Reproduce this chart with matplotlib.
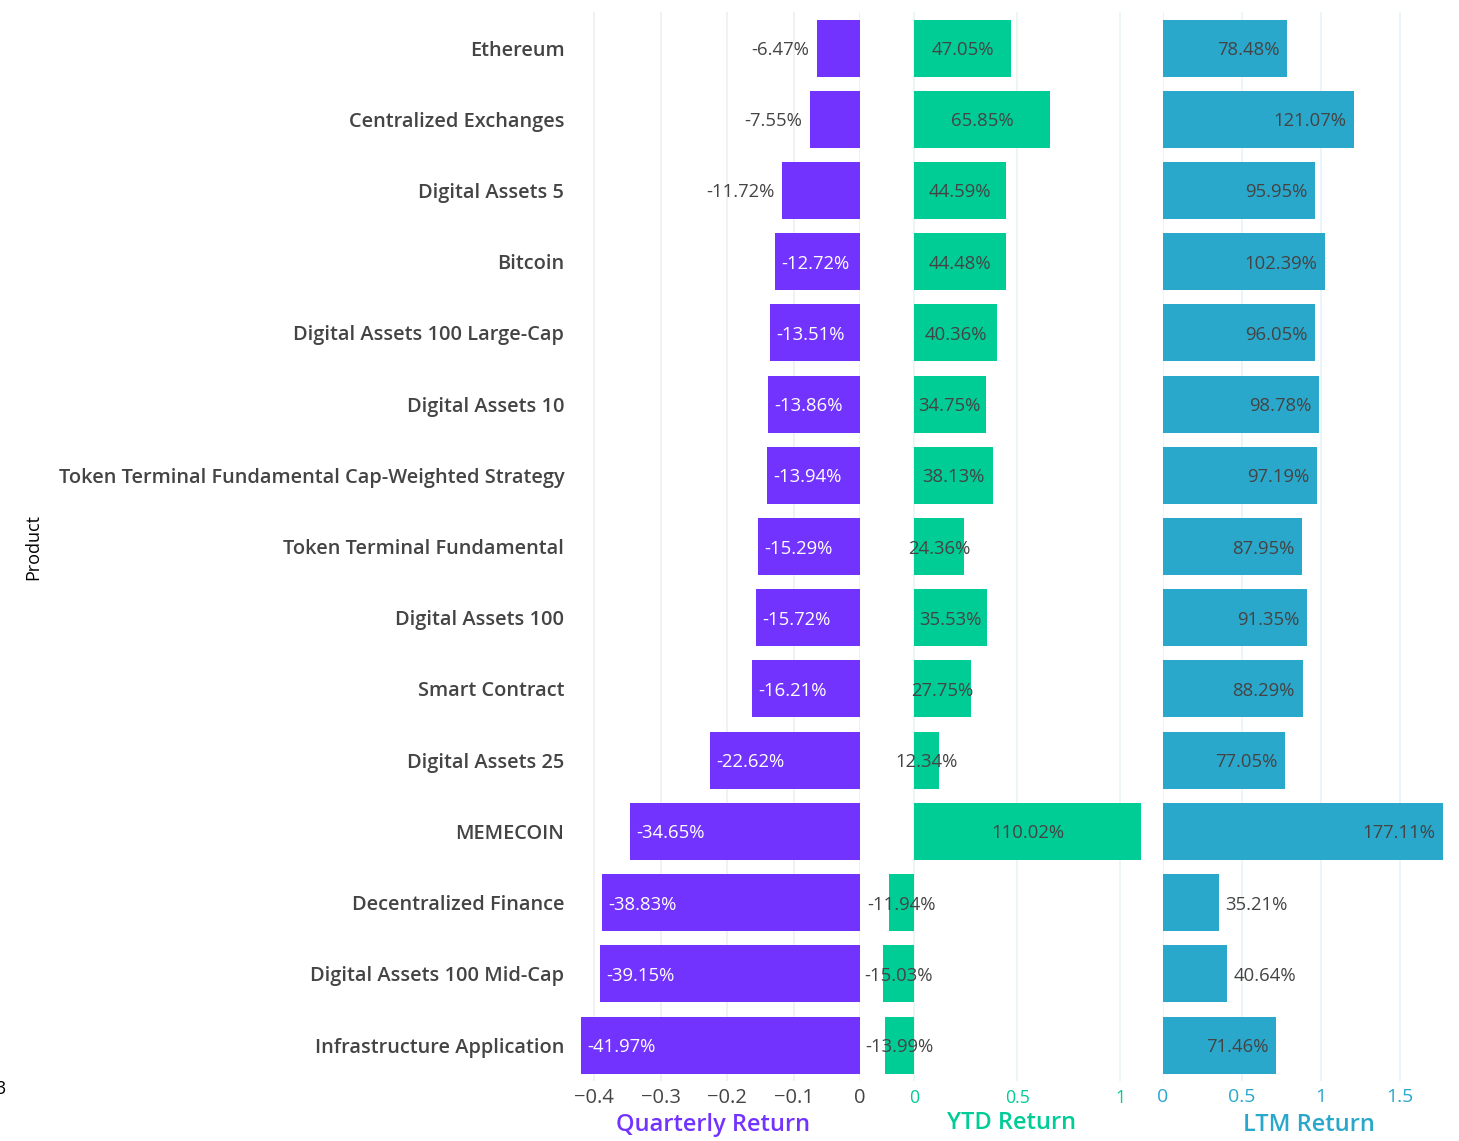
import matplotlib.pyplot as plt
import matplotlib.ticker as mt
import numpy as np

plt.rcParams['font.family'] = ['Open Sans', 'DejaVu Sans']

products = ["Ethereum", "Centralized Exchanges", "Digital Assets 5", "Bitcoin",
            "Digital Assets 100 Large-Cap", "Digital Assets 10",
            "Token Terminal Fundamental Cap-Weighted Strategy",
            "Token Terminal Fundamental", "Digital Assets 100", "Smart Contract",
            "Digital Assets 25", "MEMECOIN", "Decentralized Finance",
            "Digital Assets 100 Mid-Cap", "Infrastructure Application"]
quarterly = [-6.47, -7.55, -11.72, -12.72, -13.51, -13.86, -13.94, -15.29,
             -15.72, -16.21, -22.62, -34.65, -38.83, -39.15, -41.97]
ytd = [47.05, 65.85, 44.59, 44.48, 40.36, 34.75, 38.13, 24.36, 35.53,
       27.75, 12.34, 110.02, -11.94, -15.03, -13.99]
ltm = [78.48, 121.07, 95.95, 102.39, 96.05, 98.78, 97.19, 87.95, 91.35,
       88.29, 77.05, 177.11, 35.21, 40.64, 71.46]

purple = "#7333FF"
green = "#00CC96"
blue = "#2AA8CC"
dark = "#444444"
fs = 13.3

q = np.array(quarterly) / 100
y = np.array(ytd) / 100
l = np.array(ltm) / 100
pos = np.arange(len(products))

fig = plt.figure(figsize=(14.59, 11.41), dpi=100)
bot, h = 0.0529, 0.9362
ax1 = fig.add_axes([0.3982, bot, 0.1912, h])
ax2 = fig.add_axes([0.6052, bot, 0.1768, h])
ax3 = fig.add_axes([0.7971, bot, 0.1919, h])


def fmt(v, p):
    s = "{:g}".format(round(v, 3))
    return s.replace("-", "\u2212")


for ax, col, gcol in [(ax1, dark, "#efefef"), (ax2, green, "#e6f6f1"), (ax3, blue, "#e6f4f8")]:
    for s in ax.spines.values():
        s.set_visible(False)
    ax.set_ylim(len(products) - 0.5, -0.5)
    ax.grid(True, axis="x", color=gcol, lw=1.2, zorder=0)
    ax.set_axisbelow(True)
    ax.tick_params(length=0, colors=col)
    ax.xaxis.set_major_formatter(mt.FuncFormatter(fmt))

# Quarterly
ax1.barh(pos, q, height=0.8, color=purple, zorder=2)
ax1.set_xlim(q.min() - 0.0005, 0)
ax1.set_xticks([-0.4, -0.3, -0.2, -0.1, 0])
ax1.tick_params(axis="x", labelsize=14.5, pad=5)
ax1.set_yticks(pos)
ax1.set_yticklabels(products, fontsize=14.4, fontweight="semibold", color=dark)
ax1.tick_params(axis="y", pad=12)
ax1.set_ylabel("Product", fontsize=13, color="black")
for i, v in enumerate(q):
    lbl = "{:.2f}%".format(v * 100)
    if abs(v) > 0.12:
        ax1.annotate(lbl, (v, i), xytext=(4.5, 0), textcoords="offset points",
                     ha="left", va="center_baseline", color="white", fontsize=fs, zorder=3)
    else:
        ax1.annotate(lbl, (v, i), xytext=(-5.5, 0), textcoords="offset points",
                     ha="right", va="center_baseline", color=dark, fontsize=fs, zorder=3)
ax1.set_xlabel("Quarterly Return", color=purple, fontsize=17, fontweight="semibold")
ax1.xaxis.set_label_coords(0.473, -0.0305)

# YTD
ax2.barh(pos, y, height=0.8, color=green, zorder=2)
ax2.set_xlim(y.min(), y.max())
ax2.set_xticks([0, 0.5, 1])
ax2.tick_params(axis="x", labelsize=12.8, pad=6)
ax2.set_yticks([])
for i, v in enumerate(y):
    ax2.text(v / 2, i, "{:.2f}%".format(v * 100), ha="center", va="center_baseline",
             color=dark, fontsize=fs, zorder=3)
ax2.set_xlabel("YTD Return", color=green, fontsize=17, fontweight="semibold")
ax2.xaxis.set_label_coords(0.5, -0.0285)

# LTM
ax3.barh(pos, l, height=0.8, color=blue, zorder=2)
ax3.set_xlim(0, l.max())
ax3.set_xticks([0, 0.5, 1, 1.5])
ax3.tick_params(axis="x", labelsize=14, pad=5)
ax3.set_yticks([])
for i, v in enumerate(l):
    lbl = "{:.2f}%".format(v * 100)
    if v < 0.5:
        ax3.annotate(lbl, (v, i), xytext=(4.5, 0), textcoords="offset points",
                     ha="left", va="center_baseline", color=dark, fontsize=fs, zorder=3)
    else:
        ax3.annotate(lbl, (v, i), xytext=(-5.5, 0), textcoords="offset points",
                     ha="right", va="center_baseline", color=dark, fontsize=fs, zorder=3)
ax3.set_xlabel("LTM Return", color=blue, fontsize=17, fontweight="semibold")
ax3.xaxis.set_label_coords(0.521, -0.0305)

ax1.yaxis.set_label_coords(0.0288, 0.5206, transform=fig.transFigure)
fig.text(-0.003, 0.046, "3", fontsize=13, color="black", ha="left", va="center")

fig.savefig("out.png", dpi=100)
